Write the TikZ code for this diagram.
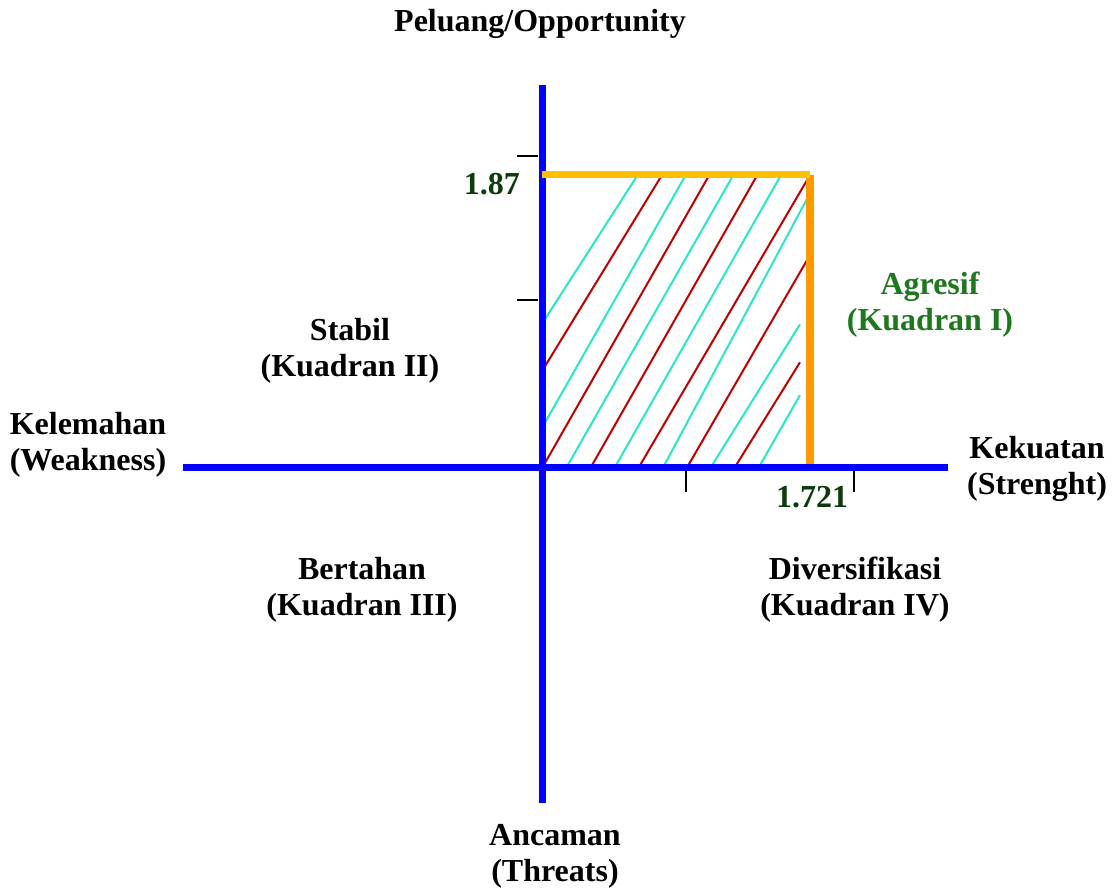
\documentclass[tikz,border=0pt]{standalone}
\usepackage{fontspec}
\setmainfont{Liberation Serif}
\definecolor{axisblue}{RGB}{0,0,255}
\definecolor{gold}{RGB}{255,192,0}
\definecolor{orng}{RGB}{255,153,0}
\definecolor{hred}{RGB}{192,0,0}
\definecolor{hcyan}{RGB}{40,232,200}
\definecolor{lblgreen}{RGB}{30,120,30}
\definecolor{numgreen}{RGB}{12,60,12}
\begin{document}
\begin{tikzpicture}[x=1pt,y=-1pt,
  axis/.style={axisblue,line width=7pt},
  tickmark/.style={black,line width=1.3pt},
  hr/.style={hred,line width=2pt},
  hc/.style={hcyan,line width=2pt},
  lbl/.style={font=\fontsize{32}{36}\selectfont\bfseries,align=center,anchor=base,inner sep=0pt},
  num/.style={font=\fontsize{32}{32}\selectfont\bfseries,text=numgreen,inner sep=0pt}]
\useasboundingbox (0,0) rectangle (1115,888);
% hatch
\draw[hc] (542.7,322.7) -- (637.7,175);
\draw[hr] (542.7,370) -- (662,175);
\draw[hc] (542.7,426.7) -- (685.7,175);
\draw[hr] (542.7,467) -- (709.3,175);
\draw[hc] (566.7,467) -- (733.3,175);
\draw[hr] (591,467) -- (757.3,175);
\draw[hc] (615,467) -- (781,175);
\draw[hr] (639,467) -- (810,175);
\draw[hc] (663.3,467) -- (810,193.3);
\draw[hr] (687.3,467) -- (810,255);
\draw[hc] (711,467) -- (800,324.3);
\draw[hr] (735,467) -- (800,362.3);
\draw[hc] (759,467) -- (800,395);
% axes
\coordinate (top) at (542,85);
\coordinate (bot) at (542,803);
\coordinate (lft) at (183,467.5);
\coordinate (rgt) at (948,467.5);
\draw[axis] (top) -- (bot);
\draw[orng,line width=8pt] (810,175) -- (810,465);
\draw[axis] (lft) -- (rgt);
\draw[gold,line width=7pt] (542,174.5) -- (810,174.5);
% ticks
\draw[tickmark] (517,156) -- (538,156);
\draw[tickmark] (517,300) -- (538,300);
\draw[tickmark] (686,471) -- (686,492);
\draw[tickmark] (854,471) -- (854,492);
% labels (base anchor = baseline of last line)
\node[lbl] (opp) at (540,32) {Peluang/Opportunity};
\node[lbl] (weak) at (88,470) {Kelemahan\\(Weakness)};
\node[lbl] (str) at (1037,494) {Kekuatan\\(Strenght)};
\node[lbl] (thr) at (555,881) {Ancaman\\(Threats)};
\node[lbl] (q2) at (350,376) {Stabil\\(Kuadran II)};
\node[lbl,text=lblgreen] (q1) at (930,330) {Agresif\\(Kuadran I)};
\node[lbl] (q3) at (362,615) {Bertahan\\(Kuadran III)};
\node[lbl] (q4) at (855,615) {Diversifikasi\\(Kuadran IV)};
\node[num,anchor=base east] (y187) at (520,194) {1.87};
\node[num,anchor=base] (x1721) at (812,507) {1.721};
\end{tikzpicture}
\end{document}
